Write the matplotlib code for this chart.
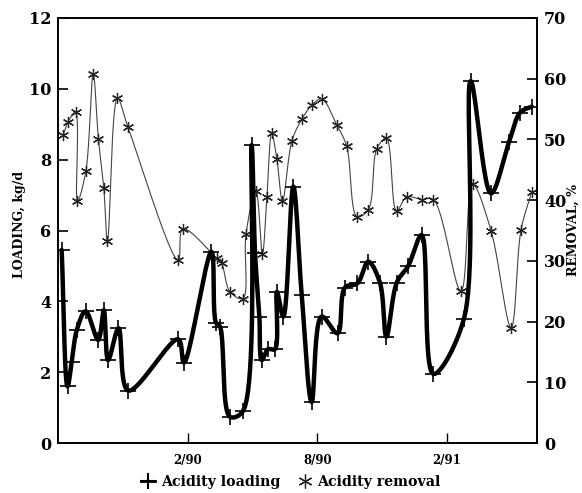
import numpy as np
import matplotlib
matplotlib.use("Agg")
import matplotlib.pyplot as plt
from matplotlib.lines import Line2D

# ---- data (months relative to Feb 1990) ----
loading_month = [-5.83, -5.56, -5.36, -5.13, -4.72, -4.14, -3.88, -3.68, -3.20, -2.75,
                 -0.44, -0.17, 1.10, 1.31, 1.50, 1.96, 2.56, 2.96, 3.12, 3.32,
                 3.43, 3.72, 4.04, 4.13, 4.43, 4.89, 5.28, 5.74, 6.20, 6.94,
                 7.28, 7.86, 8.36, 8.90, 9.20, 9.68, 10.21, 10.83, 11.37, 12.79,
                 13.10, 14.04, 14.88, 15.39, 15.93]
loading_kgd = [5.45, 1.60, 2.30, 3.19, 3.72, 2.91, 3.75, 2.34, 3.24, 1.48,
               2.93, 2.27, 5.40, 3.40, 3.28, 0.74, 0.90, 8.41, 5.36, 3.57,
               2.34, 2.65, 2.65, 4.27, 3.57, 7.24, 4.18, 1.16, 3.57, 3.10,
               4.39, 4.51, 5.12, 4.53, 3.00, 4.53, 5.00, 5.87, 1.95, 3.51,
               10.22, 7.05, 8.51, 9.33, 9.50]

removal_month = [-5.76, -5.53, -5.19, -5.10, -4.71, -4.37, -4.13, -3.88, -3.71, -3.25,
                 -2.77, -0.44, -0.22, 1.34, 1.57, 1.96, 2.56, 2.70, 3.16, 3.46,
                 3.67, 3.89, 4.13, 4.39, 4.83, 5.28, 5.74, 6.20, 6.90, 7.36,
                 7.84, 8.36, 8.76, 9.20, 9.67, 10.13, 10.83, 11.37, 12.65, 13.19,
                 14.04, 14.97, 15.43, 15.93]
removal_pct = [50.7, 52.9, 54.5, 39.8, 44.8, 60.7, 50.1, 42.0, 33.2, 56.8,
               52.1, 30.1, 35.3, 30.4, 29.6, 24.9, 23.8, 34.4, 41.5, 31.2,
               40.6, 51.0, 46.8, 39.9, 49.8, 53.3, 55.6, 56.7, 52.4, 48.9,
               37.3, 38.4, 48.5, 50.2, 38.2, 40.5, 40.1, 40.1, 25.0, 42.6,
               35.0, 19.0, 35.1, 41.4]

xtick_pos = [0, 6, 12]
xtick_labels = ["2/90", "8/90", "2/91"]


def catmull_rom(x, y, sx, sy, n=24):
    """Centripetal Catmull-Rom curve through the data points (drawing only)."""
    P = np.column_stack([np.asarray(x, float) * sx, np.asarray(y, float) * sy])
    P = np.vstack([2 * P[0] - P[1], P, 2 * P[-1] - P[-2]])
    out = []
    for i in range(1, len(P) - 2):
        p0, p1, p2, p3 = P[i - 1], P[i], P[i + 1], P[i + 2]
        def tj(ti, a, b):
            return ti + max(np.linalg.norm(b - a), 1e-6) ** 0.5
        t0 = 0.0
        t1 = tj(t0, p0, p1)
        t2 = tj(t1, p1, p2)
        t3 = tj(t2, p2, p3)
        t = np.linspace(t1, t2, n)[:, None]
        A1 = (t1 - t) / (t1 - t0) * p0 + (t - t0) / (t1 - t0) * p1
        A2 = (t2 - t) / (t2 - t1) * p1 + (t - t1) / (t2 - t1) * p2
        A3 = (t3 - t) / (t3 - t2) * p2 + (t - t2) / (t3 - t2) * p3
        B1 = (t2 - t) / (t2 - t0) * A1 + (t - t0) / (t2 - t0) * A2
        B2 = (t3 - t) / (t3 - t1) * A2 + (t - t1) / (t3 - t1) * A3
        C = (t2 - t) / (t2 - t1) * B1 + (t - t1) / (t2 - t1) * B2
        out.append(C if i == 1 else C[1:])
    C = np.vstack(out)
    return C[:, 0] / sx, C[:, 1] / sy


serif = "DejaVu Serif"
W, H = 582, 493
fig = plt.figure(figsize=(W / 100, H / 100), dpi=100)
left, right, top, bottom = 58 / W, 537 / W, 1 - 18 / H, 1 - 443 / H
ax = fig.add_axes([left, bottom, right - left, top - bottom])
ax2 = ax.twinx()

xmin, xmax = -6.0, 16.17
ax.set_xlim(xmin, xmax)
ax.set_ylim(0, 12)
ax2.set_ylim(0, 70)

axw = (right - left) * W
axh = (top - bottom) * H
sx = axw / (xmax - xmin)

# removal (thin line, asterisks)
rx, ry = catmull_rom(removal_month, removal_pct, sx, axh / 70)
ax2.plot(rx, ry, color="#444444", lw=0.8, zorder=2)
ast = (6, 2, 0)
ax2.plot(removal_month, removal_pct, ls="none", marker=ast, ms=8, mew=0.9,
         color="#222222", zorder=3)

# loading (thick line, plus markers)
lx, ly = catmull_rom(loading_month, loading_kgd, sx, axh / 12)
ax.plot(lx, ly, color="black", lw=3.2, solid_capstyle="round", zorder=4)
ax.plot(loading_month, loading_kgd, ls="none", marker="+", ms=11, mew=1.2,
        color="black", zorder=5)
ax.set_zorder(ax2.get_zorder() + 1)
ax.patch.set_visible(False)

# ticks
ax.set_yticks(range(0, 13, 2))
ax2.set_yticks(range(0, 71, 10))
ax.set_xticks(xtick_pos)
ax.set_xticklabels(xtick_labels)
ax.tick_params(axis="y", direction="in", length=7, width=1.2, pad=5,
               labelsize=11.5)
ax2.tick_params(axis="y", direction="in", length=7, width=1.2, pad=5,
                labelsize=11.5)
ax.tick_params(axis="x", direction="in", length=7, width=1.0, pad=8,
               labelsize=8.5)
for lab in ax.get_yticklabels() + ax2.get_yticklabels() + ax.get_xticklabels():
    lab.set_fontfamily(serif)
    lab.set_fontweight("bold")

for a in (ax, ax2):
    for s in a.spines.values():
        s.set_linewidth(1.2)
        s.set_color("black")

ax.set_ylabel("LOADING, kg/d", fontfamily=serif, fontweight="bold",
              fontsize=9)
ax.yaxis.set_label_coords((26 - 58) / axw, 0.515)
ax2.set_ylabel("REMOVAL, %", fontfamily=serif, fontweight="bold",
               fontsize=9, rotation=90)
ax2.yaxis.set_label_coords((567 - 58) / axw, 0.5)

handles = [
    Line2D([], [], color="black", lw=2.0, marker="+", ms=12, mew=1.5),
    Line2D([], [], color="#222222", ls="none", marker=ast, ms=10, mew=0.9),
]
fig.legend(handles, ["Acidity loading", "Acidity removal"], loc="center",
           bbox_to_anchor=(0.5, 1 - 482 / H), ncol=2, frameon=False,
           handlelength=1.0, handletextpad=0.4, columnspacing=1.2,
           prop={"family": serif, "weight": "bold", "size": 10.2})

fig.savefig("out.png", dpi=100)
